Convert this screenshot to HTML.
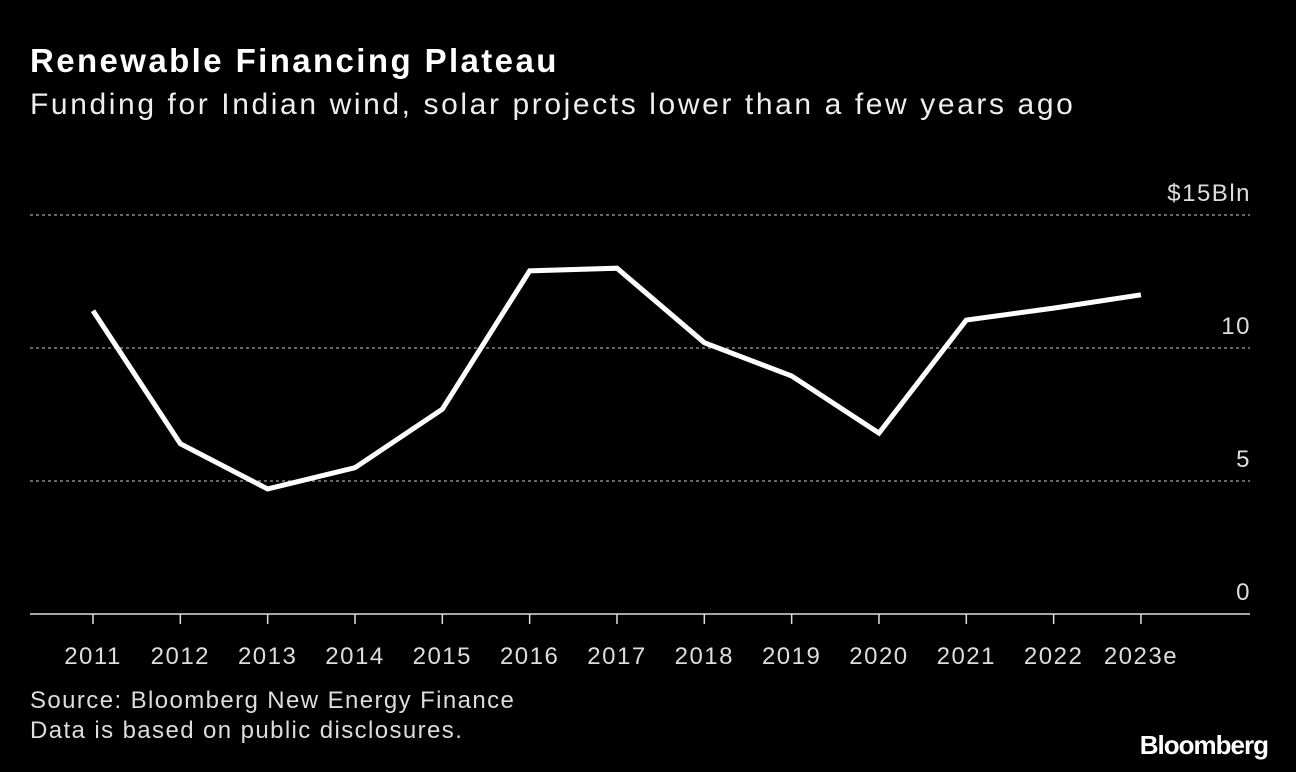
<!DOCTYPE html>
<html><head><meta charset="utf-8">
<style>
body{margin:0;background:#000;width:1296px;height:772px;overflow:hidden;font-family:"Liberation Sans",sans-serif;color:#fff}
.t{position:absolute;left:30px;top:42px;font-size:33px;font-weight:bold;letter-spacing:2.4px}
.s{position:absolute;left:30px;top:88px;font-size:30px;color:#eee;letter-spacing:2.6px}
.src{position:absolute;left:30px;top:686px;font-size:24px;color:#ddd;line-height:30px;letter-spacing:1.4px}
.logo{position:absolute;right:28px;top:730px;font-size:26px;font-weight:bold;letter-spacing:-1px}
svg{position:absolute;left:0;top:0}
</style></head><body>
<div class="t">Renewable Financing Plateau</div>
<div class="s">Funding for Indian wind, solar projects lower than a few years ago</div>
<svg id="c" width="1296" height="772"></svg>
<div class="src">Source: Bloomberg New Energy Finance<br>Data is based on public disclosures.</div>
<div class="logo">Bloomberg</div>
<script>
const categories=["2011","2012","2013","2014","2015","2016","2017","2018","2019","2020","2021","2022","2023e"];
const values=[11.4,6.4,4.7,5.5,7.7,12.9,13.0,10.2,8.95,6.8,11.05,11.5,12.0];
const yTicks=[0,5,10,15];
const yTickLabels=["0","5","10","$15Bln"];
const svg=document.getElementById('c');
const NS="http://www.w3.org/2000/svg";
const y=v=>614-v*26.6;
const x=i=>93+i*87.33;
function mk(t,a){const e=document.createElementNS(NS,t);for(const k in a)e.setAttribute(k,a[k]);svg.appendChild(e);return e;}
yTicks.forEach((v,i)=>{
  if(v>0){const g=mk('line',{x1:30,x2:1250,y1:y(v),y2:y(v),stroke:'#888','stroke-width':1.5,'stroke-dasharray':'3,3'});
  
  }
  const t=mk('text',{x:1251,y:y(v)-14,'text-anchor':'end','font-size':24,fill:'#ddd','letter-spacing':1.5});
  t.textContent=yTickLabels[i];
  
  
});
const ax=mk('line',{x1:30,x2:1250,y1:614,y2:614,stroke:'#ddd','stroke-width':1.5});


categories.forEach((c,i)=>{
  const tk=mk('line',{x1:x(i),x2:x(i),y1:614,y2:624,stroke:'#ddd','stroke-width':1.5});
  
  
  const t=mk('text',{x:x(i),y:664,'text-anchor':'middle','font-size':24,fill:'#ddd','letter-spacing':1.5});
  t.textContent=c;
  
  
});
const p=mk('polyline',{points:values.map((v,i)=>x(i)+','+y(v)).join(' '),fill:'none',stroke:'#fff','stroke-width':5,'stroke-linejoin':'miter'});


</script>
</body></html>
